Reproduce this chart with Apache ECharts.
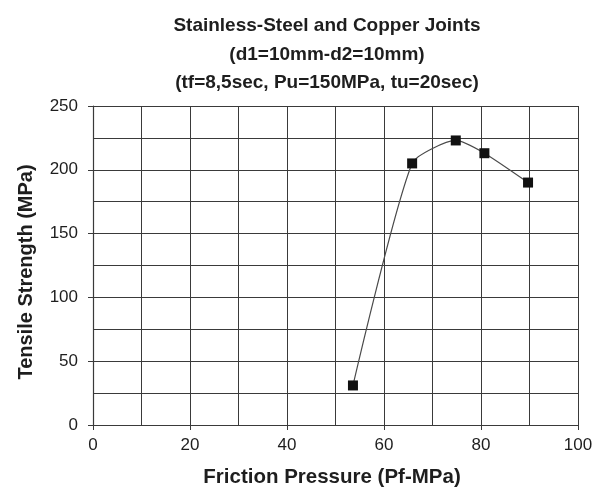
<!DOCTYPE html>
<html><head><meta charset="utf-8">
<script src="https://cdn.jsdelivr.net/npm/echarts@6/dist/echarts.min.js"></script>
<style>html,body{margin:0;padding:0;background:#fff}#c{width:599px;height:489px}</style>
</head><body><div id="c"></div>
<script>
const titleLines = ['Stainless-Steel and Copper Joints', '(d1=10mm-d2=10mm)', '(tf=8,5sec, Pu=150MPa, tu=20sec)'];
const xName = 'Friction Pressure (Pf-MPa)';
const yName = 'Tensile Strength (MPa)';
const pressure = [53.6, 65.8, 74.8, 80.7, 89.7];
const strength = [31, 205, 223, 213, 190];

const chart = echarts.init(document.getElementById('c'));
const gridColor = '#3a3a3a';
const textColor = '#1e1e1e';
const font = 'Liberation Sans, Arial, sans-serif';
chart.setOption({
  animation: false,
  backgroundColor: '#fff',
  title: {
    text: titleLines.join('\n'),
    left: 322, top: 7, textAlign: 'center',
    textStyle: {fontFamily: font, fontWeight: 'bold', fontSize: 19, lineHeight: 28.5, color: textColor}
  },
  graphic: [
    {type: 'text', x: 332, y: 477, style: {text: xName, font: 'bold 20.5px Liberation Sans, Arial, sans-serif', fill: textColor, textAlign: 'center', textVerticalAlign: 'middle'}},
    {type: 'text', x: 26, y: 272, rotation: Math.PI / 2, style: {text: yName, font: 'bold 20px Liberation Sans, Arial, sans-serif', fill: textColor, textAlign: 'center', textVerticalAlign: 'middle'}}
  ],
  grid: {left: 93, right: 21, top: 106, bottom: 64},
  xAxis: {
    type: 'value', min: 0, max: 100, interval: 20,
    axisLine: {show: true, lineStyle: {color: gridColor, width: 1.2}},
    axisTick: {show: true, length: 5, lineStyle: {color: gridColor}},
    axisLabel: {fontFamily: font, fontSize: 17, color: textColor, margin: 12},
    splitLine: {show: true, lineStyle: {color: gridColor, width: 1}},
    minorTick: {show: false, splitNumber: 2},
    minorSplitLine: {show: true, lineStyle: {color: gridColor, width: 1}}
  },
  yAxis: {
    type: 'value', min: 0, max: 250, interval: 50,
    axisLine: {show: true, lineStyle: {color: gridColor, width: 1.2}},
    axisTick: {show: true, length: 5, lineStyle: {color: gridColor}},
    axisLabel: {fontFamily: font, fontSize: 17, color: textColor, margin: 15},
    splitLine: {show: true, lineStyle: {color: gridColor, width: 1}},
    minorTick: {show: false, splitNumber: 2},
    minorSplitLine: {show: true, lineStyle: {color: gridColor, width: 1}}
  },
  series: [{
    type: 'line',
    data: pressure.map((p, i) => [p, strength[i]]),
    smooth: 0.2,
    symbol: 'rect', symbolSize: 10,
    itemStyle: {color: '#111'},
    lineStyle: {color: '#4a4a4a', width: 1.2}
  }]
});
</script></body></html>
